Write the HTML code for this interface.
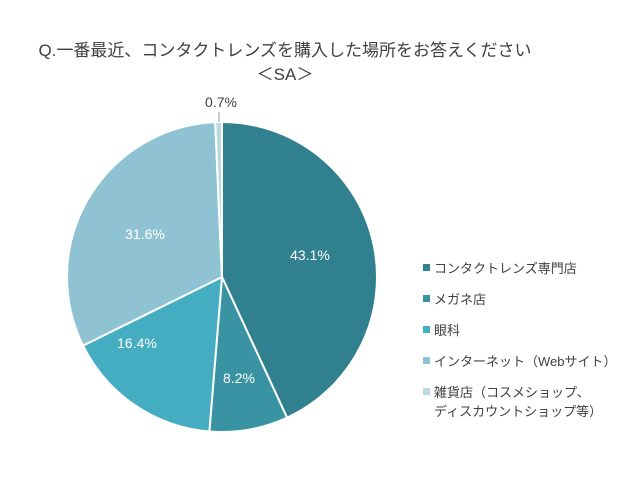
<!DOCTYPE html>
<html><head><meta charset="utf-8"><style>
body{margin:0;background:#fff;}
svg text{font-family:"Liberation Sans","Noto Sans CJK JP",sans-serif;}
</style></head><body>
<svg width="640" height="480" viewBox="0 0 640 480" xmlns="http://www.w3.org/2000/svg">
<rect width="640" height="480" fill="#fff"/>
<text x="285" y="56" font-size="17" fill="#404040" text-anchor="middle">Q.一番最近、コンタクトレンズを購入した場所をお答えください</text>
<text x="285" y="80" font-size="17" fill="#404040" text-anchor="middle">＜SA＞</text>
<g stroke="#fff" stroke-width="2">
<path d="M222,277 L222,122 A155,155 0 0 1 287.07,417.68 Z" fill="#31808f"/>
<path d="M222,277 L287.07,417.68 A155,155 0 0 1 209.35,431.48 Z" fill="#3993a2"/>
<path d="M222,277 L209.35,431.48 A155,155 0 0 1 83.03,345.62 Z" fill="#44adc2"/>
<path d="M222,277 L83.03,345.62 A155,155 0 0 1 215.18,122.15 Z" fill="#8fc3d3"/>
<path d="M222,277 L215.18,122.15 A155,155 0 0 1 222,122 Z" fill="#bcd9e0"/>
</g>
<line x1="219" y1="112" x2="219" y2="122" stroke="#999" stroke-width="1"/>
<text x="221" y="107" font-size="14" fill="#404040" text-anchor="middle">0.7%</text>
<g font-size="14" fill="#fff" text-anchor="middle">
<text x="310" y="260">43.1%</text>
<text x="239" y="383">8.2%</text>
<text x="137" y="348">16.4%</text>
<text x="145" y="239">31.6%</text>
</g>
<g font-size="13" fill="#404040">
<rect x="423" y="264" width="7" height="7" fill="#31808f"/><text x="434" y="273">コンタクトレンズ専門店</text>
<rect x="423" y="295" width="7" height="7" fill="#3993a2"/><text x="434" y="304">メガネ店</text>
<rect x="423" y="326" width="7" height="7" fill="#44adc2"/><text x="434" y="335">眼科</text>
<rect x="423" y="357" width="7" height="7" fill="#8fc3d3"/><text x="434" y="366">インターネット（Webサイト）</text>
<rect x="423" y="388" width="7" height="7" fill="#bcd9e0"/><text x="434" y="397">雑貨店（コスメショップ、</text>
<text x="434" y="416">ディスカウントショップ等）</text>
</g>
</svg>
</body></html>
